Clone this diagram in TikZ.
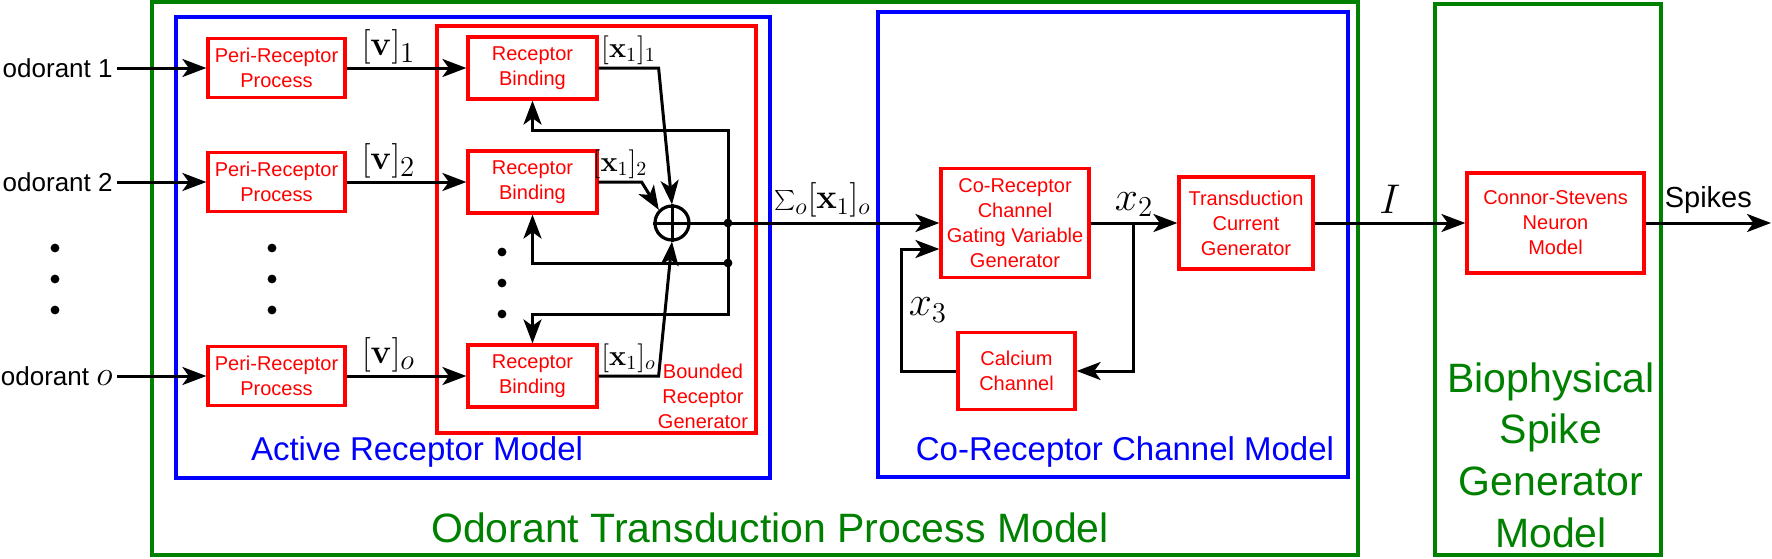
\documentclass[tikz,border=0pt]{standalone}
\usepackage[no-math]{fontspec}
\setmainfont{Liberation Sans}
\usetikzlibrary{arrows.meta}
\definecolor{dkgreen}{rgb}{0,0.5,0}
\begin{document}
\begin{tikzpicture}[x=0.5pt,y=-0.5pt,
	blk/.style={draw=red,line width=1.6pt,text=red,align=center,inner sep=0pt,font=\fontsize{10}{12.5}\selectfont},
	peri/.style={blk,minimum width=68.5pt,minimum height=29.5pt},
	bind/.style={blk,minimum width=64.5pt,minimum height=31pt},
	sig/.style={line width=1.5pt,-{Stealth[length=12pt,width=9pt,inset=3.2pt]}},
	wire/.style={line width=1.5pt},
	frame/.style={line width=2.2pt},
	sigtxt/.style={above,inner sep=1pt}]%ODORANT MODEL
			\useasboundingbox (0,0) rectangle (1772,558);
			\draw[frame,dkgreen] (152,2) rectangle (1358,555);
			\draw[frame,dkgreen] (1435,4) rectangle (1661,555);
			\draw[frame,blue] (176,17) rectangle (770,478);
			\draw[frame,blue] (878,12) rectangle (1348,477);
			\draw[frame,red] (437,26) rectangle (756,433);
			\foreach \r/\y/\t in {1/68/1,2/182/2,o/376/{\fontsize{16}{18}\selectfont$o$}}{
				\node[anchor=east,inner sep=2pt,font=\fontsize{13}{15}\selectfont] (od\r) at (117,\y) {odorant \t};
				\node[peri] (pr\r) at (276.5,\y) {Peri-Receptor\\Process};
				\node[bind] (rb\r) at (532.5,\y) {Receptor\\Binding};
				\draw[sig] (od\r) -- (pr\r);
				\draw[sig] (pr\r) -- node[pos=.35,sigtxt,font=\fontsize{19}{21}\selectfont]{$[\mathbf{v}]_\r$} (rb\r);
			}
			\foreach \x/\d in {55/0,272/0,502/4}
			\foreach \y in {248,279,310}
			\fill (\x,\y+\d) circle (2.2pt);
			\node[draw,circle,line width=1.6pt,minimum size=17pt,inner sep=0pt] (sum) at (672,223) {};
			\draw[wire] (sum.north) -- (sum.south) (sum.west) -- (sum.east);
			\draw[sig] (rb1.east) -- node[sigtxt,font=\fontsize{14.5}{17}\selectfont]{$[\mathbf{x}_1]_1$} ++(60,0) -- (sum.north);
			\draw[sig] (rb2.east) -- node[sigtxt,font=\fontsize{14.5}{17}\selectfont]{$[\mathbf{x}_1]_2$} ++(43,0) -- (sum.north west);
			\draw[sig] (rbo.east) -- node[sigtxt,font=\fontsize{14.5}{17}\selectfont]{$[\mathbf{x}_1]_o$} ++(60,0) -- (sum.south);
			\coordinate (j1) at (728,223);
			\coordinate (j2) at (728,263);
			\coordinate (fb1) at (728,130);
			\coordinate (fbo) at (728,314);
			\draw[sig] (j1) -- (fb1) -| (rb1.south);
			\draw[sig] (j2) -| (rb2.south);
			\draw[sig] (j1) -- (fbo) -| (rbo.north);
			\fill (j1) circle (2.2pt) (j2) circle (2.2pt);
			\node[blk,minimum width=74pt,minimum height=54.5pt] (corec) at (1015,223) {Co-Receptor\\Channel\\Gating Variable\\Generator};
			\node[blk,minimum width=67pt,minimum height=46pt] (trans) at (1246,223) {Transduction\\Current\\Generator};
			\node[blk,minimum width=88.5pt,minimum height=50pt] (csn) at (1555.5,223) {Connor-Stevens\\Neuron\\Model};
			\node[blk,minimum width=58.5pt,minimum height=38.5pt] (calc) at (1016.5,371) {Calcium\\Channel};
			\coordinate (b2) at (1133,223);
			\coordinate (spk) at (1771,223);
			\draw[sig] (sum) -- node[pos=.53,above,inner sep=2pt,font=\fontsize{16.5}{19}\selectfont]{$\sum_o[\mathbf{x}_1]_o$} (corec);
			\draw[sig] (corec) -- node[above,inner sep=2.5pt,font=\fontsize{22}{24}\selectfont]{$x_2$} (trans);
			\draw[sig] (b2) |- (calc);
			\draw[sig] (calc.west) -- ++(-55,0) |- node[pos=.25,right,inner sep=3pt,font=\fontsize{22}{24}\selectfont]{$x_3$} ([yshift=-13pt]corec.west);
			\draw[sig] (trans) -- node[above,inner sep=4pt,font=\fontsize{22}{24}\selectfont]{$I$} (csn);
			\draw[sig] (csn) -- node[above,inner sep=4pt,font=\fontsize{14.5}{17}\selectfont]{Spikes} (spk);
			\node[red,align=center,font=\fontsize{10}{12.5}\selectfont] (brg) at (703,396) {Bounded\\Receptor\\Generator};
			\node[blue,font=\fontsize{16.5}{20}\selectfont] (arm) at (417,452) {Active Receptor Model};
			\node[blue,font=\fontsize{16.5}{20}\selectfont] (crcm) at (1125,452) {Co-Receptor Channel Model};
			\node[dkgreen,font=\fontsize{20.5}{25}\selectfont] (otpm) at (770,528) {Odorant Transduction Process Model};
			\node[dkgreen,align=center,font=\fontsize{20.5}{25.8}\selectfont] (bsgm) at (1551,455) {Biophysical\\Spike\\Generator\\Model};
			\end{tikzpicture}
\end{document}
